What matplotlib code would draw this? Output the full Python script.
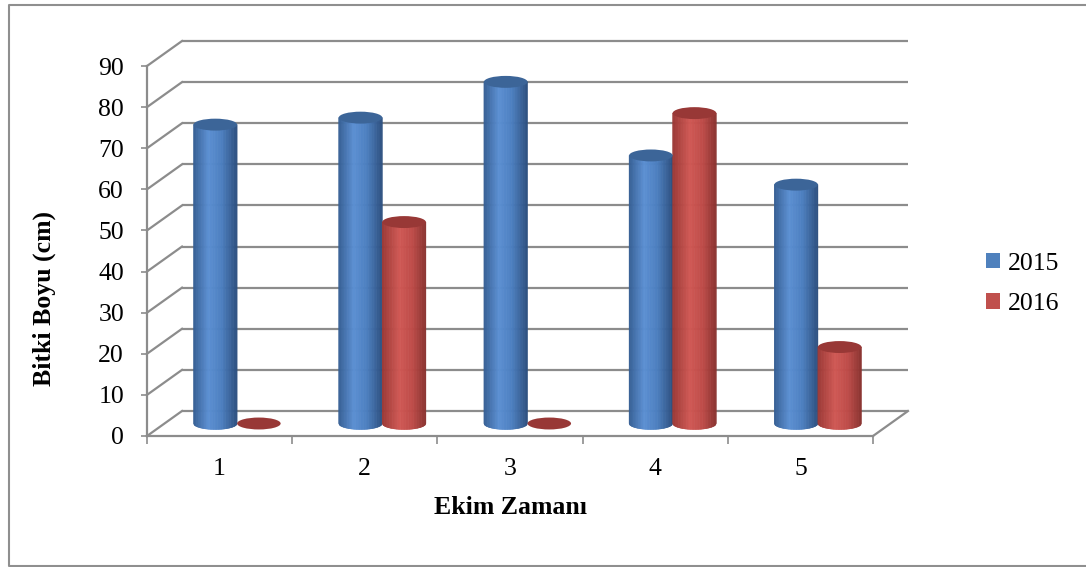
import numpy as np
import matplotlib
matplotlib.use("Agg")
import matplotlib.pyplot as plt
from matplotlib.collections import PolyCollection
from matplotlib.patches import Ellipse, Patch
from matplotlib.lines import Line2D
from matplotlib.colors import LinearSegmentedColormap

# ---- data ----
categories = [1, 2, 3, 4, 5]
series_names = ["2015", "2016"]
values_2015 = [72.7, 74.4, 83.1, 65.2, 58.1]
values_2016 = [0.0, 49.0, 0.0, 75.5, 18.6]
y_ticks = [0, 10, 20, 30, 40, 50, 60, 70, 80, 90]
x_title = "Ekim Zamanı"
y_title = "Bitki Boyu (cm)"

# ---- styling ----
plt.rcParams["font.family"] = ["Liberation Serif", "DejaVu Serif"]
FS = 18.5
GRID = "#8C8C8C"
BLUE = "#4F81BD"
RED = "#C0504D"
blue_cmap = LinearSegmentedColormap.from_list(
    "blue_cyl", [(0.0, "#355E93"), (0.35, "#5B8FD3"), (0.65, "#4C7FC0"), (1.0, "#2D5080")])
red_cmap = LinearSegmentedColormap.from_list(
    "red_cyl", [(0.0, "#9A3835"), (0.4, "#D05854"), (0.7, "#BE4B48"), (1.0, "#8A3330")])
BLUE_TOP = "#3C6598"
RED_TOP = "#983836"

W, H, DPI = 1086, 567, 100
fig = plt.figure(figsize=(W / DPI, H / DPI), dpi=DPI)
fig.patch.set_facecolor("white")

# front plane of the 3-D box
ax = fig.add_axes([147 / W, (H - 436) / H, 726 / W, 370 / H])
ax.set_xlim(0.5, 5.5)
ax.set_ylim(0, 90)
ax.patch.set_visible(False)

# oblique depth of the box, in data units
DX, DY = 0.241, 6.08
DXM, DYM = DX / 2, DY / 2          # series sit half-way into the box
BAR_W = 0.30                        # cylinder diameter in category units
ELL_H = 2.9                         # apparent height of the elliptical caps

# back wall gridlines and side-wall diagonals
x0, x1 = ax.get_xlim()
for v in y_ticks:
    ax.plot([x0 + DX, x1 + DX], [v + DY, v + DY], color=GRID, lw=1.6,
            clip_on=False, zorder=1, solid_capstyle="butt")
    ax.plot([x0, x0 + DX], [v, v + DY], color=GRID, lw=1.6,
            clip_on=False, zorder=1)
# right edge of the floor
ax.plot([x1, x1 + DX], [0, DY], color=GRID, lw=1.6, clip_on=False, zorder=1)


def cylinder(xc, value, cmap, top_color, n=60):
    half = BAR_W / 2
    if value > 0:
        edges = np.linspace(-1, 1, n + 1)
        polys, cols = [], []
        for a, b in zip(edges[:-1], edges[1:]):
            ya = DYM - ELL_H / 2 * np.sqrt(max(0.0, 1 - a * a))
            yb = DYM - ELL_H / 2 * np.sqrt(max(0.0, 1 - b * b))
            xa, xb = xc + a * half, xc + b * half
            polys.append([(xa, ya), (xb, yb), (xb, value + DYM), (xa, value + DYM)])
            cols.append(cmap((a + b) / 4 + 0.5))
        pc = PolyCollection(polys, facecolors=cols, edgecolors=cols,
                            linewidths=0.4, clip_on=False, zorder=3)
        ax.add_collection(pc)
    ax.add_patch(Ellipse((xc, value + DYM), BAR_W, ELL_H, facecolor=top_color,
                         edgecolor="none", clip_on=False, zorder=4))


offsets = [-BAR_W / 2, BAR_W / 2]
series = [(values_2015, blue_cmap, BLUE_TOP), (values_2016, red_cmap, RED_TOP)]
for i, cat in enumerate(categories):
    for (vals, cmap, top), off in zip(series, offsets):
        cylinder(cat + off + DXM, vals[i], cmap, top)

# axes lines and ticks
for side in ("top", "right"):
    ax.spines[side].set_visible(False)
for side in ("left", "bottom"):
    ax.spines[side].set_color(GRID)
    ax.spines[side].set_linewidth(1.6)

ax.set_yticks(y_ticks)
ax.set_yticklabels([str(t) for t in y_ticks])
ax.tick_params(axis="y", direction="out", length=4.5, width=1.2, color=GRID,
               pad=12, labelsize=FS, labelcolor="black")

ax.set_xticks(categories)
ax.set_xticklabels([str(c) for c in categories])
ax.set_xticks(np.arange(0.5, 5.51, 1.0), minor=True)
ax.tick_params(axis="x", which="major", length=0, pad=16, labelsize=FS,
               labelcolor="black")
ax.tick_params(axis="x", which="minor", direction="out", length=6, width=1.2,
               color=GRID)

# titles
fig.text(510 / W, 1 - 508 / H, x_title, ha="center", va="center",
         fontsize=FS, fontweight="bold")
fig.text(44 / W, 1 - 298 / H, y_title, ha="center", va="center",
         rotation=90, fontsize=FS, fontweight="bold")

# legend
handles = [Patch(facecolor=BLUE, edgecolor="none"), Patch(facecolor=RED, edgecolor="none")]
fig.legend(handles, series_names, loc="center left",
           bbox_to_anchor=(986 / W, 1 - 284 / H), frameon=False, fontsize=FS,
           handlelength=0.55, handleheight=0.55, handletextpad=0.3,
           labelspacing=0.72, borderpad=0, borderaxespad=0)

# chart frame: left, top and bottom edges (runs off the right side)
BORDER = "#8F8F8F"
bx, by_top, by_bot = 8.5 / W, 1 - 4.5 / H, 1 - 565.5 / H
fig.add_artist(Line2D([1.0, bx, bx, 1.0], [by_top, by_top, by_bot, by_bot],
                      transform=fig.transFigure, color=BORDER, lw=1.5))

fig.savefig("out.png", dpi=DPI)
